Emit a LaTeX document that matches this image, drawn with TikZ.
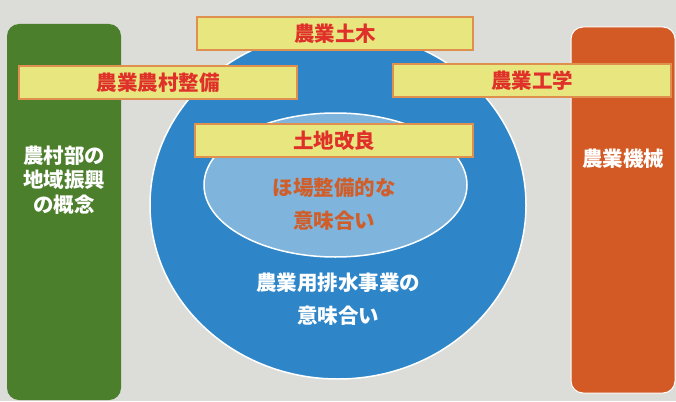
\documentclass[tikz,border=0pt]{standalone}
\usepackage{fontspec}
\setmainfont{Noto Sans CJK JP}
\usetikzlibrary{shapes.geometric}
\definecolor{bgrey}{HTML}{DCDCD8}
\definecolor{fieldgreen}{HTML}{4C7F2C}
\definecolor{rust}{HTML}{D35A24}
\definecolor{deepblue}{HTML}{2E86C8}
\definecolor{paleblue}{HTML}{7FB5DD}
\definecolor{boxyellow}{HTML}{E7E67F}
\definecolor{boxedge}{HTML}{E0904E}
\definecolor{titlered}{HTML}{E0302A}
\definecolor{innerorange}{HTML}{D05E2A}

\begin{document}
\begin{tikzpicture}[x=1pt,y=-1pt,
  side box/.style={rounded corners=12pt,minimum width=114pt,inner sep=0pt},
  area/.style={ellipse,draw=white,line width=1.5pt,inner sep=0pt},
  field box/.style={rectangle,fill=boxyellow,draw=boxedge,line width=2pt,
    minimum width=276pt,minimum height=33pt,text=titlered,inner sep=0pt},
  big text/.style={font=\fontsize{20.5}{24.5}\selectfont\bfseries,align=center,inner sep=0pt}]

  \useasboundingbox[fill=bgrey] (0,0) rectangle (676,401);

  \node[side box,fill=fieldgreen,minimum height=376pt] (rural) at (64,212) {};
  \node[side box,fill=rust,draw=white,line width=1pt,minimum width=104pt,minimum height=366pt] (machine) at (623,210) {};

  \node[area,fill=deepblue,minimum width=376pt,minimum height=348pt] (drainage) at (338,205) {};
  \node[area,fill=paleblue,minimum width=263pt,minimum height=144pt] (plot) at (335.5,185) {};

  \node[field box,big text] (civil) at (335,33.5) {農業土木};
  \node[field box,big text,minimum width=278pt] (ruralwork) at (158,83) {農業農村整備};
  \node[field box,big text,minimum width=278pt] (engineering) at (532,80.5) {農業工学};
  \node[field box,big text,minimum width=278pt] (landimp) at (334,140.5) {土地改良};

  \node[big text,text=white] (ruraltext) at (64,180) {農村部の\\地域振興\\の概念};
  \node[big text,text=white] (machinetext) at (623,159) {農業機械};
  \node[big text,text=innerorange] (plottext) at (334,204) {ほ場整備的な\\[8.5pt]意味合い};
  \node[big text,text=white] (drainagetext) at (338,299) {農業用排水事業の\\[8.5pt]意味合い};
\end{tikzpicture}
\end{document}
